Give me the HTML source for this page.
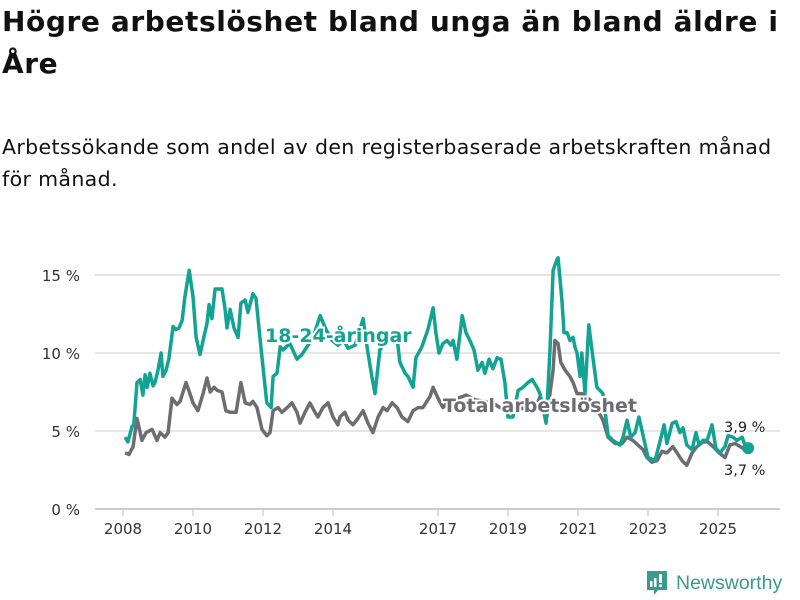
<!DOCTYPE html>
<html><head><meta charset="utf-8"><style>
body{margin:0;width:800px;height:600px;background:#fff;font-family:"DejaVu Sans","Liberation Sans",sans-serif;color:#111;overflow:hidden;position:relative}
h1{position:absolute;left:2px;top:1px;margin:0;font-size:28px;letter-spacing:0.6px;line-height:42px;font-weight:bold;width:798px;white-space:nowrap}
.sub{position:absolute;left:2px;top:131px;font-size:20.5px;letter-spacing:0.35px;line-height:32px;width:798px;white-space:nowrap}
svg{position:absolute;left:0;top:0}
</style></head><body>
<h1>Högre arbetslöshet bland unga än bland äldre i<br>Åre</h1>
<div class="sub">Arbetssökande som andel av den registerbaserade arbetskraften månad<br>för månad.</div>
<svg id="chart" width="800" height="600"></svg>
<script>
const yTicks=[0,5,10,15];
const yTickLabels=["0 %","5 %","10 %","15 %"];
const xTicks=[2008,2010,2012,2014,2017,2019,2021,2023,2025];
const youthYears=[.06,.14,.26,.31,.4,.49,.57,.63,.69,.77,.86,.91,1.0,1.09,1.14,1.23,1.31,1.43,1.51,1.6,1.69,1.77,1.89,2.0,2.09,2.2,2.29,2.4,2.46,2.54,2.63,2.83,2.91,2.97,3.06,3.17,3.29,3.37,3.49,3.57,3.71,3.8,3.91,4.03,4.11,4.23,4.29,4.4,4.49,4.57,4.77,4.97,5.11,5.29,5.46,5.63,5.8,5.97,6.14,6.31,6.43,6.63,6.86,6.97,7.11,7.2,7.34,7.49,7.57,7.83,7.91,8.06,8.14,8.29,8.37,8.54,8.71,8.86,8.94,9.03,9.14,9.26,9.37,9.43,9.54,9.69,9.8,9.91,10.03,10.14,10.26,10.34,10.46,10.57,10.69,10.8,10.91,11.0,11.14,11.29,11.43,11.57,11.69,11.83,11.91,12.09,12.2,12.29,12.4,12.43,12.54,12.6,12.69,12.77,12.86,12.91,12.97,13.06,13.11,13.2,13.31,13.43,13.54,13.71,13.86,14.0,14.2,14.29,14.4,14.51,14.63,14.74,14.89,15.0,15.2,15.34,15.46,15.54,15.69,15.8,15.91,16.0,16.11,16.26,16.37,16.46,16.57,16.69,16.83,16.94,17.06,17.2,17.29,17.43,17.54,17.69,17.77,17.86];
const youthValues=[4.6,4.3,5.3,5.4,8.1,8.3,7.3,8.6,7.8,8.7,7.9,8.1,8.9,10.0,8.5,8.9,9.6,11.7,11.5,11.6,12.1,13.6,15.3,13.6,11.0,9.9,10.8,11.9,13.1,12.2,14.1,14.1,12.9,11.6,12.8,11.6,11.0,13.2,13.4,12.6,13.8,13.5,11.0,8.5,6.8,6.5,8.5,8.7,10.4,10.2,10.6,9.6,9.9,10.5,11.2,12.4,11.5,10.8,10.5,10.8,10.3,10.5,12.2,10.4,8.5,7.4,10.2,10.7,11.0,11.0,9.4,8.7,8.5,7.8,9.7,10.4,11.5,12.9,11.3,10.0,10.6,10.8,10.5,10.8,9.6,12.4,11.3,10.8,10.2,8.9,9.4,8.7,9.6,9.0,9.7,9.6,8.1,5.9,5.9,7.6,7.8,8.1,8.3,7.8,7.4,5.5,10.2,15.3,16.0,16.1,13.4,11.3,11.3,10.8,11.0,10.4,10.0,8.5,10.0,7.4,11.8,9.6,7.8,7.4,4.7,4.4,4.1,4.6,5.7,4.6,4.9,5.9,4.4,3.3,3.1,4.3,5.4,4.2,5.5,5.6,4.9,5.2,4.1,3.8,4.9,4.1,4.4,4.4,5.4,3.9,3.6,4.0,4.7,4.6,4.4,4.6,4.1,3.9];
const totalYears=[.06,.17,.29,.4,.54,.66,.83,.97,1.06,1.2,1.29,1.4,1.54,1.63,1.8,1.91,2.0,2.14,2.29,2.4,2.49,2.6,2.69,2.83,2.94,3.06,3.23,3.37,3.49,3.63,3.71,3.83,3.97,4.11,4.2,4.29,4.43,4.54,4.69,4.83,4.97,5.06,5.2,5.34,5.46,5.57,5.71,5.86,6.0,6.14,6.2,6.34,6.43,6.57,6.71,6.86,7.0,7.14,7.29,7.43,7.54,7.69,7.83,7.97,8.14,8.29,8.43,8.57,8.77,8.86,9.0,9.14,9.34,9.57,9.8,10.06,10.34,10.63,10.91,11.2,11.49,11.77,11.91,12.11,12.29,12.34,12.43,12.51,12.63,12.77,12.86,12.97,13.11,13.34,13.57,13.71,13.86,14.06,14.26,14.4,14.57,14.71,14.86,14.97,15.11,15.26,15.4,15.54,15.71,15.83,15.97,16.11,16.26,16.4,16.57,16.71,16.86,17.03,17.2,17.34,17.49,17.63,17.86];
const totalValues=[3.6,3.5,4.0,5.8,4.4,4.9,5.1,4.4,4.9,4.6,4.9,7.1,6.7,6.9,8.1,7.4,6.8,6.3,7.4,8.4,7.5,7.8,7.6,7.5,6.3,6.2,6.2,8.1,6.8,6.7,6.9,6.5,5.1,4.7,4.9,6.3,6.5,6.2,6.5,6.8,6.2,5.5,6.2,6.8,6.3,5.9,6.5,6.8,5.9,5.4,5.9,6.2,5.7,5.4,5.8,6.3,5.5,4.9,5.9,6.5,6.3,6.8,6.5,5.9,5.6,6.3,6.5,6.5,7.2,7.8,7.1,6.5,7.0,7.1,7.3,7.0,6.9,6.7,6.3,6.3,6.5,6.3,7.2,5.9,8.9,10.8,10.6,9.4,8.9,8.5,8.1,7.4,7.4,7.0,6.3,5.7,4.6,4.2,4.2,4.6,4.4,4.1,3.8,3.3,3.0,3.1,3.7,3.6,4.0,3.6,3.1,2.8,3.6,4.0,4.3,4.3,4.0,3.6,3.3,4.1,4.2,4.0,3.7];
const NS="http://www.w3.org/2000/svg";
const svg=document.getElementById("chart");
const xS=y=>123+(y-2008)*35;
const yS=v=>509-v*15.6;
function mk(t,a,txt){const e=document.createElementNS(NS,t);for(const k in a)e.setAttribute(k,a[k]);if(txt!==undefined)e.textContent=txt;svg.appendChild(e);return e;}
yTicks.forEach((v,i)=>{
 const g=mk("line",{x1:95,x2:780,y1:yS(v),y2:yS(v),stroke:v===0?"#bbb":"#ddd","stroke-width":1.5});
 
 
 const t=mk("text",{x:80,y:yS(v)+6,"text-anchor":"end","font-size":15,fill:"#333"},yTickLabels[i]);
 
 
});
xTicks.forEach(y=>{
 const l=mk("line",{x1:xS(y),x2:xS(y),y1:510,y2:516,stroke:"#bbb","stroke-width":1});
 
 
 const t=mk("text",{x:xS(y),y:534,"text-anchor":"middle","font-size":15,fill:"#333"},String(y));
 
 
});
function line(years,vals,color,name){
 const d=years.map((y,i)=>(i?"L":"M")+xS(2008+y).toFixed(1)+","+yS(vals[i]).toFixed(1)).join("");
 const p=mk("path",{d:d,fill:"none",stroke:color,"stroke-width":3.5,"stroke-linejoin":"round"});
 
 
}
line(totalYears,totalValues,"#6d6c71","total-line");
line(youthYears,youthValues,"#13a393","youth-line");
const lt=youthYears.length-1;
const dot=mk("circle",{cx:xS(2008+youthYears[lt]),cy:yS(youthValues[lt]),r:6,fill:"#13a393"});


const l1=mk("text",{x:265,y:342,"font-size":19,"font-weight":"bold",fill:"#13a393",stroke:"#fff","stroke-width":4,"paint-order":"stroke"},"18-24-åringar");


const l2=mk("text",{x:443,y:412,"font-size":19,"font-weight":"bold",fill:"#6d6c71",stroke:"#fff","stroke-width":4,"paint-order":"stroke"},"Total arbetslöshet");


const v1=mk("text",{x:724,y:432,"font-size":14.5,fill:"#222",stroke:"#fff","stroke-width":3,"paint-order":"stroke"},"3,9 %");


const v2=mk("text",{x:724,y:475,"font-size":14.5,fill:"#222",stroke:"#fff","stroke-width":3,"paint-order":"stroke"},"3,7 %");


</script>
<div style="position:absolute;left:645px;top:569px;height:28px;display:flex;align-items:center">
 <svg width="24" height="28" viewBox="0 0 24 28" style="position:static"><path d="M2 2h20v19h-9l-4 5v-5H2z" fill="#3a9a8e"/><rect x="5" y="12" width="2.5" height="6" fill="#fff"/><rect x="9" y="9" width="2.5" height="9" fill="#fff"/><rect x="14" y="5" width="3" height="9" fill="#fff"/><rect x="14" y="15.5" width="3" height="2.5" fill="#fff"/></svg>
 <span style="font-size:19.5px;color:#3a9a8e;margin-left:7px;font-family:'Liberation Sans',sans-serif;font-weight:500">Newsworthy</span>
</div>
</body></html>
